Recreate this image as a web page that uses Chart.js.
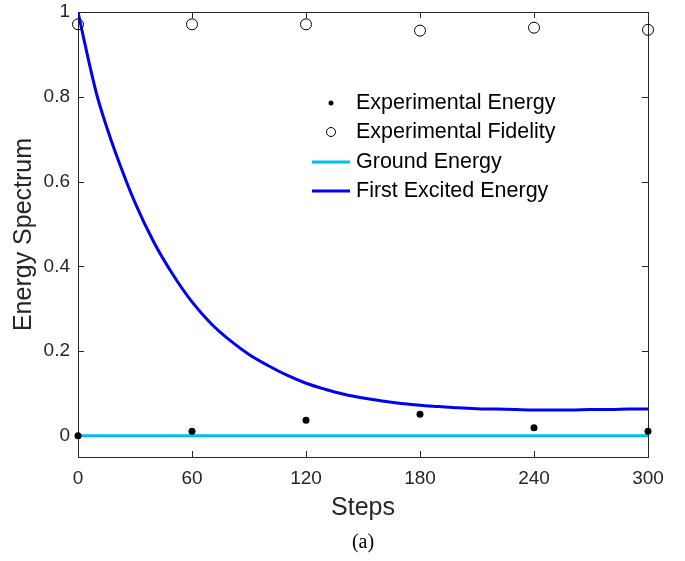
<!DOCTYPE html>
<html>
<head>
<meta charset="utf-8">
<script src="https://cdn.jsdelivr.net/npm/chart.js@4/dist/chart.umd.min.js"></script>
<style>
  html, body { margin: 0; padding: 0; background: #fff; }
</style>
</head>
<body>
<canvas id="chart" width="685" height="561"></canvas>
<script>
// values
const expSteps = [0, 60, 120, 180, 240, 300];
const expEnergy = [0, 0.011, 0.037, 0.051, 0.019, 0.011];
const expFidelity = [0.971, 0.971, 0.971, 0.956, 0.963, 0.958];

const groundSteps = [0, 300];
const groundEnergy = [0, 0];

const curveSteps = [0, 5, 10, 15, 20, 30, 40, 50, 60, 70, 80, 90, 100, 110, 120, 130, 140, 150,
  160, 170, 180, 190, 200, 210, 220, 230, 240, 250, 260, 270, 280, 290, 300];
const excitedEnergy = [1.0, 0.897, 0.803, 0.73, 0.665, 0.55, 0.456, 0.38, 0.316, 0.265,
  0.225, 0.192, 0.166, 0.143, 0.124, 0.11, 0.098, 0.089, 0.082, 0.076, 0.072, 0.069,
  0.066, 0.064, 0.063, 0.062, 0.061, 0.061, 0.061, 0.062, 0.062, 0.063, 0.063];

const xTicks = [0, 60, 120, 180, 240, 300];
const yTicks = [0, 0.2, 0.4, 0.6, 0.8, 1];

const seriesLabels = ['Experimental Energy', 'Experimental Fidelity', 'Ground Energy', 'First Excited Energy'];

const SANS = '"Liberation Sans", Arial, Helvetica, sans-serif';
const AXIS_COLOR = '#262626';

function toPoints(xs, ys) {
  return xs.map((x, i) => ({ x: x, y: ys[i] }));
}

// box around the axes with inward ticks, like the original
const framePlugin = {
  id: 'frame',
  beforeDatasetsDraw(chart) {
    const { ctx, chartArea: a, scales } = chart;
    const len = 6;
    ctx.save();
    ctx.strokeStyle = AXIS_COLOR;
    ctx.lineWidth = 1;
    ctx.strokeRect(Math.round(a.left) + 0.5, Math.round(a.top) + 0.5,
      Math.round(a.right - a.left), Math.round(a.bottom - a.top));
    ctx.beginPath();
    xTicks.forEach(v => {
      const px = Math.round(scales.x.getPixelForValue(v)) + 0.5;
      ctx.moveTo(px, a.bottom); ctx.lineTo(px, a.bottom - len);
      ctx.moveTo(px, a.top); ctx.lineTo(px, a.top + len);
    });
    yTicks.forEach(v => {
      const py = Math.round(scales.y.getPixelForValue(v)) + 0.5;
      ctx.moveTo(a.left, py); ctx.lineTo(a.left + len, py);
      ctx.moveTo(a.right, py); ctx.lineTo(a.right - len, py);
    });
    ctx.stroke();
    ctx.restore();
  }
};

// boxless legend inside the axes + the "(a)" caption
const legendPlugin = {
  id: 'innerLegend',
  afterDraw(chart) {
    const { ctx } = chart;
    const rowsY = [103, 132, 162, 191];
    const sampleX0 = 312, sampleX1 = 350, textX = 356;
    ctx.save();
    ctx.font = '21.5px ' + SANS;
    ctx.textBaseline = 'middle';
    ctx.fillStyle = '#000';
    chart.data.datasets.forEach((ds, i) => {
      const y = rowsY[i];
      const cx = (sampleX0 + sampleX1) / 2;
      if (ds.showLine) {
        ctx.strokeStyle = ds.borderColor;
        ctx.lineWidth = ds.borderWidth;
        ctx.beginPath();
        ctx.moveTo(sampleX0, y); ctx.lineTo(sampleX1, y);
        ctx.stroke();
      } else {
        ctx.beginPath();
        ctx.arc(cx, y, i === 0 ? 2.5 : 4.5, 0, Math.PI * 2);
        if (i === 0) { ctx.fillStyle = '#000'; ctx.fill(); }
        else { ctx.strokeStyle = '#000'; ctx.lineWidth = 1; ctx.stroke(); }
      }
      ctx.fillStyle = '#000';
      ctx.fillText(ds.label, textX, y);
    });
    ctx.font = '20px "Liberation Serif", "DejaVu Serif", serif';
    ctx.textAlign = 'center';
    ctx.fillStyle = '#000';
    ctx.fillText('(a)', 363, 543);
    ctx.restore();
  }
};

new Chart(document.getElementById('chart').getContext('2d'), {
  type: 'scatter',
  data: {
    datasets: [
      {
        label: seriesLabels[0],
        data: toPoints(expSteps, expEnergy),
        showLine: false,
        pointRadius: 3.5,
        pointBackgroundColor: '#000',
        pointBorderColor: '#000',
        pointBorderWidth: 0,
        clip: false
      },
      {
        label: seriesLabels[1],
        data: toPoints(expSteps, expFidelity),
        showLine: false,
        pointRadius: 5.5,
        pointBackgroundColor: 'rgba(0,0,0,0)',
        pointBorderColor: '#000',
        pointBorderWidth: 1,
        clip: false
      },
      {
        label: seriesLabels[2],
        data: toPoints(groundSteps, groundEnergy),
        showLine: true,
        borderColor: '#00BFF0',
        borderWidth: 3,
        pointRadius: 0
      },
      {
        label: seriesLabels[3],
        data: toPoints(curveSteps, excitedEnergy),
        showLine: true,
        borderColor: '#0000F5',
        borderWidth: 3,
        pointRadius: 0,
        cubicInterpolationMode: 'monotone'
      }
    ]
  },
  options: {
    responsive: false,
    animation: false,
    events: [],
    layout: { padding: { left: 0, right: 37, top: 12, bottom: 0 } },
    plugins: {
      legend: { display: false },
      tooltip: { enabled: false }
    },
    scales: {
      x: {
        type: 'linear',
        min: 0,
        max: 300,
        afterBuildTicks: s => { s.ticks = xTicks.map(v => ({ value: v })); },
        afterFit: s => { s.height = 104; },
        grid: { display: false, drawTicks: false },
        border: { display: false },
        ticks: {
          padding: 10,
          color: AXIS_COLOR,
          font: { family: SANS, size: 19 },
          maxRotation: 0
        },
        title: {
          display: true,
          text: 'Steps',
          color: AXIS_COLOR,
          font: { family: SANS, size: 25 },
          padding: { top: 0, bottom: 38 }
        }
      },
      y: {
        type: 'linear',
        min: -0.05,
        max: 1,
        afterBuildTicks: s => { s.ticks = yTicks.map(v => ({ value: v })); },
        afterFit: s => { s.width = 78; s.paddingTop = 0; s.paddingBottom = 0; },
        grid: { display: false, drawTicks: false },
        border: { display: false },
        ticks: {
          padding: 8,
          color: AXIS_COLOR,
          font: { family: SANS, size: 19 },
          callback: v => String(parseFloat(v.toFixed(2)))
        },
        title: {
          display: true,
          text: 'Energy Spectrum',
          color: AXIS_COLOR,
          font: { family: SANS, size: 25 },
          padding: { top: 9, bottom: 0 }
        }
      }
    }
  },
  plugins: [framePlugin, legendPlugin]
});
</script>
</body>
</html>
